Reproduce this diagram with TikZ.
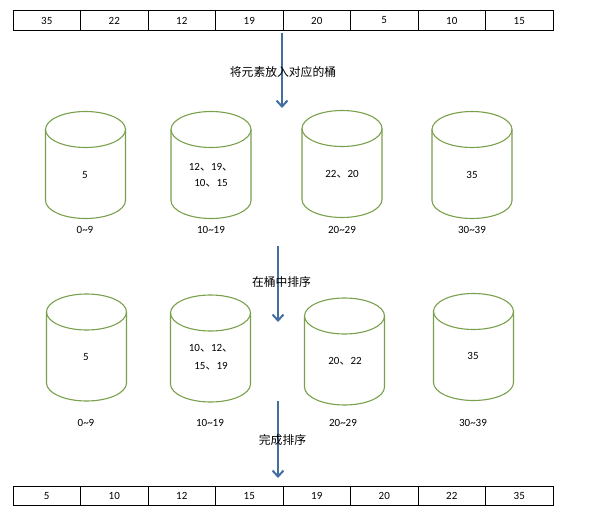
\documentclass[tikz,border=0pt]{standalone}
\usepackage{fontspec}
\setmainfont{Carlito}
\newfontfamily\cjk{Noto Sans CJK SC}
\usetikzlibrary{positioning,arrows.meta}
\definecolor{bucketgreen}{RGB}{122,160,76}
\definecolor{flowblue}{RGB}{66,110,162}
\newcommand\dun{{\cjk 、}}
\tikzset{
  cell/.style={draw, line width=0.8pt, minimum width=67.5pt, minimum height=19.5pt,
               inner sep=0pt, outer sep=0pt, font=\fontsize{11}{13}\selectfont},
  bucketline/.style={draw=bucketgreen, line width=1.1pt},
  pics/bucket/.style={code={
    \draw[bucketline] (0,-35.5) ellipse [x radius=40, y radius=18];
    \draw[bucketline] (-40,-35.5) -- (-40,35.5)
      arc[start angle=180, end angle=0, x radius=40, y radius=18] -- (40,-35.5);
  }},
  content/.style={align=center, inner sep=0pt, font=\fontsize{11}{16}\selectfont},
  rangetext/.style={inner sep=0pt, font=\fontsize{11}{13}\selectfont},
  steptext/.style={inner sep=0pt, font=\cjk\fontsize{11.8}{14}\selectfont},
  flow/.style={draw=flowblue, line width=2pt, -{Straight Barb[length=6pt,width=11pt]}},
}
\begin{document}
\begin{tikzpicture}[x=1pt, y=-1pt, node distance=0pt]
  \useasboundingbox (0,0) rectangle (600,519);

  % unsorted input
  \node[cell]             (a1) at (46.75,20.5) {35};
  \node[cell, right=of a1] (a2) {22};
  \node[cell, right=of a2] (a3) {12};
  \node[cell, right=of a3] (a4) {19};
  \node[cell, right=of a4] (a5) {20};
  \node[cell, right=of a5] (a6) {5};
  \node[cell, right=of a6] (a7) {10};
  \node[cell, right=of a7] (a8) {15};

  % buckets after scattering
  \pic (b1) at (85.5,165) {bucket};
  \pic (b2) at (211,165) {bucket};
  \pic (b3) at (342,164) {bucket};
  \pic (b4) at (472,165) {bucket};
  \node[content] (b1t) at (85,175)  {5};
  \node[content] (b2t) at (211,175) {12\dun19\dun\\10\dun15};
  \node[content] (b3t) at (342,174) {22\dun20};
  \node[content] (b4t) at (472,175) {35};
  \node[rangetext] (b1r) at (85,230)  {0\textasciitilde9};
  \node[rangetext] (b2r) at (211,230) {10\textasciitilde19};
  \node[rangetext] (b3r) at (342,230) {20\textasciitilde29};
  \node[rangetext] (b4r) at (472,230) {30\textasciitilde39};

  % buckets after sorting
  \pic (c1) at (86.5,347.5) {bucket};
  \pic (c2) at (210.5,348.5) {bucket};
  \pic (c3) at (344.5,351.5) {bucket};
  \pic (c4) at (473.5,347) {bucket};
  \node[content] (c1t) at (86,357)  {5};
  \node[content, font=\fontsize{11}{18}\selectfont] (c2t) at (211,357) {10\dun12\dun\\15\dun19};
  \node[content] (c3t) at (345,361) {20\dun22};
  \node[content] (c4t) at (473,356) {35};
  \node[rangetext] (c1r) at (86,423)  {0\textasciitilde9};
  \node[rangetext] (c2r) at (210,423) {10\textasciitilde19};
  \node[rangetext] (c3r) at (343,423) {20\textasciitilde29};
  \node[rangetext] (c4r) at (473,423) {30\textasciitilde39};

  % sorted output
  \node[cell]             (d1) at (46.75,496) {5};
  \node[cell, right=of d1] (d2) {10};
  \node[cell, right=of d2] (d3) {12};
  \node[cell, right=of d3] (d4) {15};
  \node[cell, right=of d4] (d5) {19};
  \node[cell, right=of d5] (d6) {20};
  \node[cell, right=of d6] (d7) {22};
  \node[cell, right=of d7] (d8) {35};

  % steps
  \coordinate (s1) at (282,33);  \coordinate (e1) at (282,108);
  \coordinate (s2) at (278,246); \coordinate (e2) at (278,322);
  \coordinate (s3) at (278,401); \coordinate (e3) at (278,478);
  \draw[flow] (s1) -- (e1);
  \draw[flow] (s2) -- (e2);
  \draw[flow] (s3) -- (e3);
  \node[steptext] (l1) at (283,72)  {将元素放入对应的桶};
  \node[steptext] (l2) at (281.5,282) {在桶中排序};
  \node[steptext] (l3) at (282.5,440) {完成排序};
\end{tikzpicture}
\end{document}
